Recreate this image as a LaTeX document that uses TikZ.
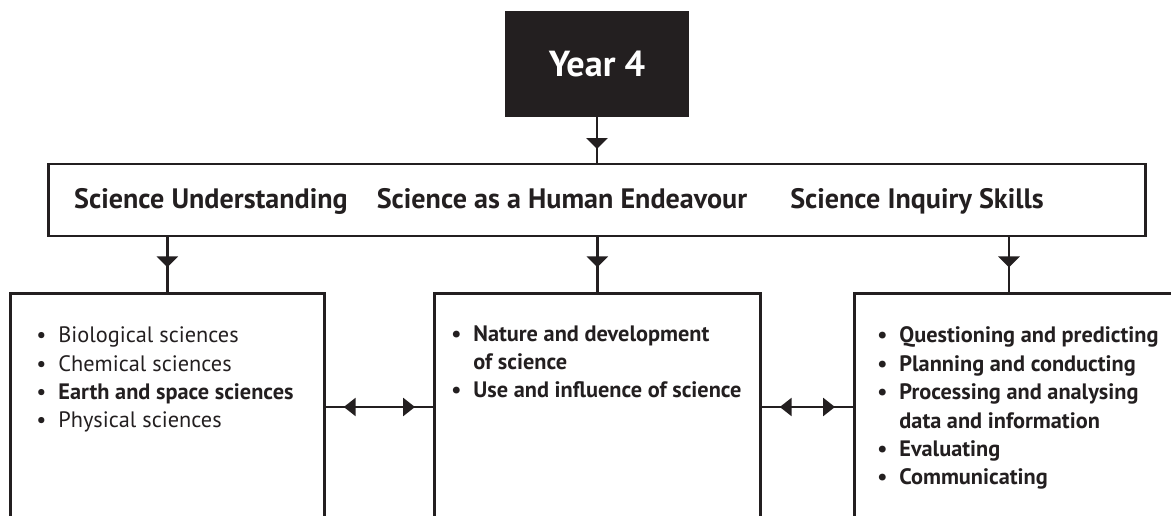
\documentclass[tikz,border=0pt]{standalone}
\usepackage{fontspec}
\setmainfont{PT Sans}
\usetikzlibrary{positioning,arrows.meta,decorations.markings}
\definecolor{ink}{HTML}{231F20}
\newcommand{\bul}{\makebox[0.44cm][l]{\textbullet}}
\newcommand{\ind}{\hspace*{0.44cm}}

\begin{document}
\begin{tikzpicture}[x=0.02cm,y=-0.02cm,
    line width=1.6pt, color=ink,
    yearbox/.style={fill=ink, draw=ink, minimum width=3.64cm, minimum height=2.08cm, text=white, font=\fontsize{20.6}{24}\selectfont\bfseries},
    strandbar/.style={draw=ink, minimum width=21.96cm, minimum height=1.44cm},
    strand/.style={anchor=base, inner sep=0pt, font=\fontsize{16}{19}\selectfont\bfseries},
    subbox/.style={draw=ink, anchor=north west, minimum height=5cm, inner sep=0pt},
    items/.style={anchor=base west, align=left, inner sep=0pt, font=\fontsize{12.7}{16.2}\selectfont},
    flow/.style={postaction=decorate, decoration={markings,
        mark=at position #1 with {\arrow{Triangle[width=0.42cm,length=0.22cm]}}}},
    link/.style={postaction=decorate, decoration={markings,
        mark=at position 0.36cm with {\arrowreversed{Triangle[width=0.36cm,length=0.24cm]}},
        mark=at position -0.36cm with {\arrow{Triangle[width=0.36cm,length=0.24cm]}}}}
]
\useasboundingbox (0,0) rectangle (1171,516);
\clip (0,0) rectangle (1171,516);

% year and strands
\node[yearbox] (year) at (597,64) {Year 4};
\node[strandbar] (bar) at (597,200) {};
\node[strand] (su) at (211,209) {Science Understanding};
\node[strand] (she) at (562,209) {Science as a Human Endeavour};
\node[strand] (sis) at (917,209) {Science Inquiry Skills};

% sub-strand boxes (open at the bottom)
\node[subbox, minimum width=6.28cm] (su-box) at (9,292) {};
\node[subbox, minimum width=6.52cm] (she-box) at (433,292) {};
\node[subbox, minimum width=8cm] (sis-box) at (853,292) {};
\coordinate (sis-in) at (1009,292);
\coordinate (link) at (0,407);

% lists, placed at the baseline of their last line
\node[items] (su-list) at (35,428) {\bul Biological sciences\\
    \bul Chemical sciences\\
    \bul\textbf{Earth and space sciences}\\
    \bul Physical sciences};
\node[items, font=\fontsize{12.7}{16.2}\selectfont\bfseries] (she-list) at (450,398) {\bul Nature and development\\
    \ind of science\\
    \bul Use and influence of science};
\node[items, font=\fontsize{12.7}{16.2}\selectfont\bfseries] (sis-list) at (876,485) {\bul Questioning and predicting\\
    \bul Planning and conducting\\
    \bul Processing and analysing\\
    \ind data and information\\
    \bul Evaluating\\
    \bul Communicating};

% connectors
\draw[flow=0.7] (year) -- (bar);
\draw[flow=0.55] (bar.south -| su-box.north) -- (su-box.north);
\draw[flow=0.55] (bar.south -| she-box.north) -- (she-box.north);
\draw[flow=0.55] (bar.south -| sis-in) -- (sis-in);
\draw[link] (su-box.east |- link) -- (she-box.west |- link);
\draw[link] (she-box.east |- link) -- (sis-box.west |- link);
\end{tikzpicture}
\end{document}
